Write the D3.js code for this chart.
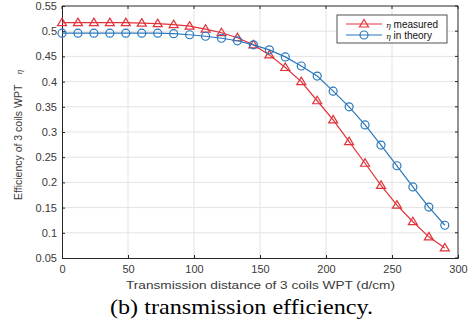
<!DOCTYPE html>
<html>
<head>
<meta charset="utf-8">
<script src="https://cdn.jsdelivr.net/npm/d3@7"></script>
<style>
  body { margin: 0; background: #fff; }
  text { font-family: "Liberation Sans", Arial, sans-serif; }
</style>
</head>
<body>
<div id="chart"></div>
<script>
// efficiency vs distance, 3 coils WPT

var distance = d3.range(25).map(function(i) { return 290 * i / 24; });
var measured = [0.517, 0.517, 0.517, 0.517, 0.517, 0.516, 0.515, 0.513, 0.510, 0.504, 0.497, 0.487,
  0.473, 0.453, 0.428, 0.400, 0.362, 0.324, 0.281, 0.238, 0.194, 0.155, 0.122, 0.092, 0.070];
var theory = [0.496, 0.496, 0.496, 0.496, 0.496, 0.496, 0.496, 0.495, 0.493, 0.490, 0.486, 0.481,
  0.473, 0.463, 0.449, 0.431, 0.411, 0.381, 0.350, 0.314, 0.274, 0.233, 0.191, 0.151, 0.115];
var xTicks = [0, 50, 100, 150, 200, 250, 300];
var yTicks = [0.05, 0.1, 0.15, 0.2, 0.25, 0.3, 0.35, 0.4, 0.45, 0.5, 0.55];

var width = 471,
    height = 322;

var x = d3.scaleLinear().domain([0, 300]).range([62, 458]);
var y = d3.scaleLinear().domain([0.05, 0.55]).range([258, 6]);

var svg = d3.select("#chart").append("svg")
    .attr("width", width)
    .attr("height", height);

// grid
svg.append("g").selectAll("line")
  .data(xTicks.slice(1, -1))
  .enter().append("line")
  .attr("x1", d => x(d)).attr("x2", d => x(d))
  .attr("y1", y(0.55)).attr("y2", y(0.05))
  .style("stroke", "#e3e3e3");
svg.append("g").selectAll("line")
  .data(yTicks.slice(1, -1))
  .enter().append("line")
  .attr("x1", x(0)).attr("x2", x(300))
  .attr("y1", d => y(d)).attr("y2", d => y(d))
  .style("stroke", "#e3e3e3");

// axes, ticks inward like matlab
var xAxis = svg.append("g")
  .attr("transform", "translate(0," + y(0.05) + ")")
  .call(d3.axisBottom(x).tickValues(xTicks).tickSize(-3).tickPadding(7).tickFormat(d3.format("d")));
var yAxis = svg.append("g")
  .attr("transform", "translate(" + x(0) + ",0)")
  .call(d3.axisLeft(y).tickValues(yTicks).tickSize(-3).tickPadding(5).tickFormat(d => d3.format("")(+d.toFixed(2))));
[xAxis, yAxis].forEach(function(a) {
  a.select(".domain").style("stroke", "#262626");
  a.selectAll(".tick line").style("stroke", "#262626");
  a.selectAll("text").style("fill", "#3a3a3a").style("font-size", "11px");
});

svg.append("line").attr("x1", x(0)).attr("x2", x(300)).attr("y1", y(0.55)).attr("y2", y(0.55)).style("stroke", "#262626");
svg.append("line").attr("x1", x(300)).attr("x2", x(300)).attr("y1", y(0.55)).attr("y2", y(0.05)).style("stroke", "#262626");
svg.append("g").selectAll("line").data(yTicks).enter().append("line")
  .attr("x1", x(300) - 3).attr("x2", x(300)).attr("y1", d => y(d)).attr("y2", d => y(d))
  .style("stroke", "#262626");
svg.append("g").selectAll("line").data(xTicks).enter().append("line")
  .attr("x1", d => x(d)).attr("x2", d => x(d)).attr("y1", y(0.55)).attr("y2", y(0.55) + 3)
  .style("stroke", "#262626");

var series = [
  {name: "measured", values: measured, color: "#e2323a", marker: "tri"},
  {name: "in theory", values: theory, color: "#2a78bd", marker: "circ"}
];

var line = d3.line()
  .x((d, i) => x(distance[i]))
  .y(d => y(d));

function addMarker(g, kind, cx, cy, color) {
  if (kind == "tri") {
    g.append("path")
      .attr("d", "M" + cx + "," + (cy - 4.5) + "L" + (cx + 4.5) + "," + (cy + 3) + "L" + (cx - 4.5) + "," + (cy + 3) + "Z")
      .attr("fill", "none")
      .style("stroke", color)
      .style("stroke-width", 1.2);
  } else {
    g.append("circle")
      .attr("cx", cx).attr("cy", cy).attr("r", 4)
      .attr("fill", "none")
      .style("stroke", color)
      .style("stroke-width", 1.2);
  }
}

series.forEach(function(s) {
  svg.append("path")
    .datum(s.values)
    .attr("d", line)
    .attr("fill", "none")
    .style("stroke", s.color)
    .style("stroke-width", 1.2);
  var g = svg.append("g");
  s.values.forEach(function(v, i) {
    addMarker(g, s.marker, x(distance[i]), y(v), s.color);
  });
});

// legend
var legend = svg.append("g");
legend.append("rect")
  .attr("x", 337).attr("y", 15).attr("width", 110).attr("height", 28)
  .attr("fill", "#fff")
  .style("stroke", "#262626")
  .style("stroke-width", 0.8);
series.forEach(function(s, i) {
  var ly = 24 + i * 11;
  legend.append("line")
    .attr("x1", 346).attr("x2", 382).attr("y1", ly).attr("y2", ly)
    .style("stroke", s.color).style("stroke-width", 1.2);
  addMarker(legend, s.marker, 364, ly, s.color);
  var t = legend.append("text").attr("x", 386).attr("y", ly + 3.5).style("font-size", "10px").style("fill", "#111");
  t.append("tspan").text("η").style("font-style", "italic").style("font-family", "'DejaVu Serif', serif").style("font-size", "8px");
  t.append("tspan").text(" " + s.name);
});

// labels
svg.append("text")
  .attr("x", 126).attr("y", 289)
  .attr("textLength", 269)
  .attr("lengthAdjust", "spacingAndGlyphs")
  .style("font-size", "11px")
  .style("fill", "#3a3a3a")
  .text("Transmission distance of 3 coils WPT (d/cm)");

var ylab = svg.append("text")
  .attr("transform", "translate(22,200) rotate(-90)")
  .style("font-size", "10.5px")
  .style("fill", "#3a3a3a");
ylab.append("tspan").text("Efficiency of 3 coils WPT");
ylab.append("tspan").attr("dx", 10).text("η")
  .style("font-style", "italic").style("font-family", "'DejaVu Serif', serif").style("font-size", "8px");

svg.append("text")
  .attr("x", 110).attr("y", 314)
  .attr("textLength", 263)
  .attr("lengthAdjust", "spacingAndGlyphs")
  .style("font-family", "'Liberation Serif', 'Times New Roman', serif")
  .style("font-size", "22px")
  .style("fill", "#000")
  .text("(b) transmission efficiency.");
</script>
</body>
</html>
